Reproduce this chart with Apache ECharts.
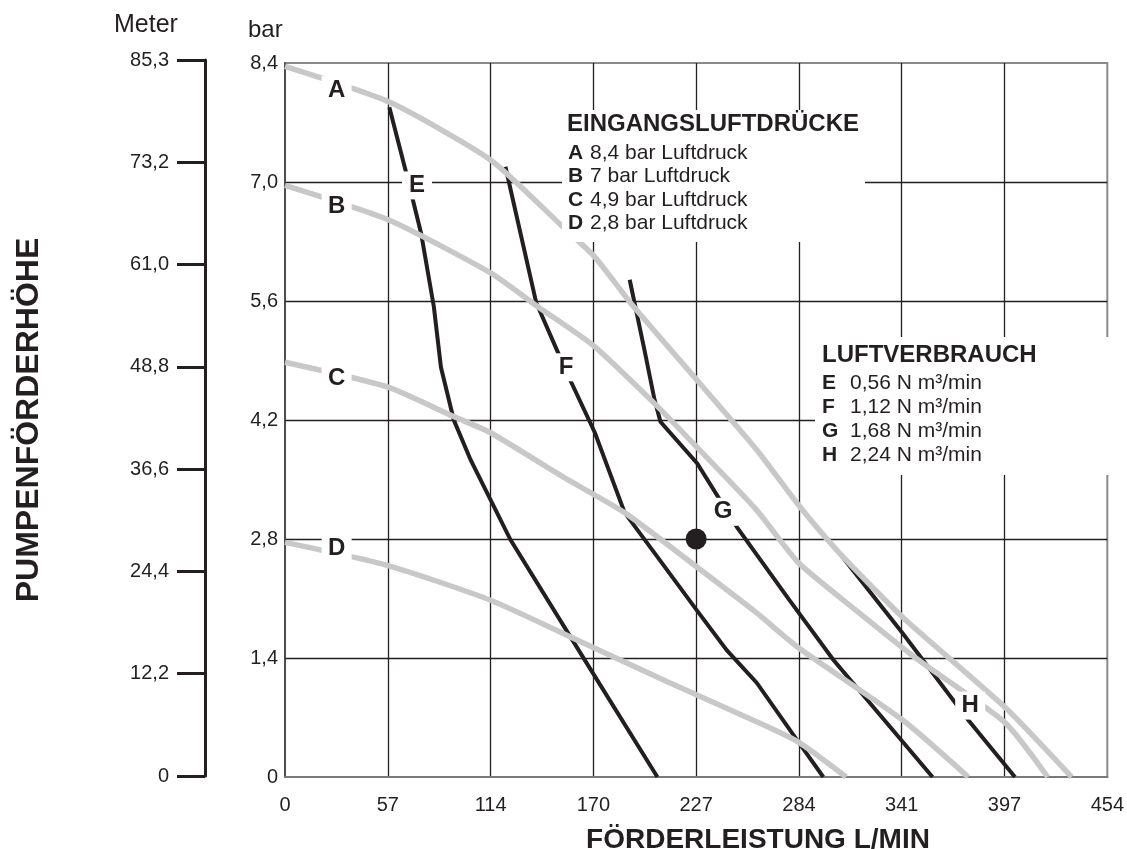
<!DOCTYPE html>
<html>
<head>
<meta charset="utf-8">
<script src="https://cdn.jsdelivr.net/npm/echarts@6/dist/echarts.min.js"></script>
<style>html,body{margin:0;padding:0;background:#fff}#c{width:1127px;height:849px}</style>
</head>
<body>
<div id="c"></div>
<script>
// ---- tick labels ----
const xTickLabels = ['0','57','114','170','227','284','341','397','454'];
const barTickLabels = ['0','1,4','2,8','4,2','5,6','7,0','8,4'];
const meterTickLabels = ['0','12,2','24,4','36,6','48,8','61,0','73,2','85,3'];

// ---- inlet air pressure curves (x: L/min, y: bar) ----
const curveA = [[0,8.36],[57.6,7.94],[113.5,7.26],[153.5,6.47],[171.0,6.12],[190.7,5.58],[227.4,4.67],[260.4,3.85],[283.5,3.20],[305.9,2.64],[341.0,1.88],[397.5,0.82],[434.3,0]];
const curveB = [[0,6.96],[57.6,6.55],[113.5,5.93],[139.8,5.53],[170.0,5.08],[205.6,4.36],[227.4,3.88],[260.4,3.14],[283.5,2.52],[315.3,1.96],[348.2,1.40],[397.5,0.64],[421.1,0]];
const curveC = [[0,4.88],[56.5,4.59],[93.2,4.24],[113.5,4.05],[153.5,3.53],[187.5,3.11],[227.4,2.47],[260.4,1.93],[283.5,1.52],[341.0,0.67],[377.2,0]];
const curveD = [[0,2.76],[56.5,2.49],[113.5,2.08],[164.5,1.58],[211.1,1.12],[260.4,0.65],[283.5,0.41],[309.8,0]];

// ---- air consumption curves ----
const curveE = [[57.6,7.88],[66.9,7.11],[75.1,6.40],[82.2,5.53],[86.1,4.82],[93.2,4.20],[102.5,3.73],[113.5,3.26],[124.5,2.79],[164.5,1.41],[205.6,0]];
const curveF = [[121.7,7.18],[138.7,5.58],[150.8,4.99],[157.9,4.65],[171.1,4.05],[187.5,3.11],[205.6,2.59],[227.4,1.96],[244.0,1.49],[260.4,1.11],[283.5,0.41],[297.2,0]];
const curveG = [[190.3,5.85],[198.5,5.02],[204.0,4.44],[207.3,4.18],[227.6,3.69],[249.5,2.94],[278.5,2.08],[302.7,1.38],[357.5,0]];
const curveH = [[307.0,2.61],[341.0,1.69],[377.2,0.67],[403.0,0]];

// ---- curve letter positions ----
const curveLetters = ['A','B','C','D','E','F','G','H'];
const letterPos = [[28.5,8.08],[28.5,6.71],[28.5,4.69],[28.5,2.69],[72.9,6.96],[155.2,4.82],[241.8,3.12],[378.3,0.84]];

// ---- operating point ----
const opPoint = [227, 2.8];

// ---- legends ----
const pressureTitle = 'EINGANGSLUFTDRÜCKE';
const pressureItems = [['A','8,4 bar Luftdruck'],['B','7 bar Luftdruck'],['C','4,9 bar Luftdruck'],['D','2,8 bar Luftdruck']];
const airTitle = 'LUFTVERBRAUCH';
const airItems = [['E','0,56 N m³/min'],['F','1,12 N m³/min'],['G','1,68 N m³/min'],['H','2,24 N m³/min']];

const FF = '"Liberation Sans", Arial, Helvetica, sans-serif';
const INK = '#231f20';
const GRAY = '#c8c8c8';
const X_STEP = 454 / 8;

const chart = echarts.init(document.getElementById('c'), null, {renderer: 'canvas'});

function grayLine(d){ return {type:'line', xAxisIndex:0, yAxisIndex:0, data:d, symbol:'none', smooth:0.2, z:4, lineStyle:{color:GRAY, width:5.5, cap:'butt'}, silent:true}; }
function blackLine(d){ return {type:'line', xAxisIndex:0, yAxisIndex:0, data:d, symbol:'none', smooth:false, z:3, lineStyle:{color:INK, width:4, cap:'butt', join:'miter'}, silent:true}; }

const graphics = [];
// legend backgrounds
graphics.push({type:'rect', shape:{x:562, y:110, width:303, height:132}, style:{fill:'#fff'}, z:50, silent:true});
graphics.push({type:'rect', shape:{x:815, y:337, width:312, height:138}, style:{fill:'#fff'}, z:50, silent:true});
function txt(x, y, text, font, align){
  return {type:'text', z:60, silent:true, style:{x:x, y:y, text:text, font:font, fill:INK, textAlign:align||'left', textVerticalAlign:'middle', verticalAlign:'middle'}};
}
graphics.push(txt(567, 124, pressureTitle, 'bold 24px ' + FF));
pressureItems.forEach(function(it, i){
  const y = 153 + i * 23.4;
  graphics.push(txt(568, y, it[0], 'bold 21px ' + FF));
  graphics.push(txt(590, y, it[1], '21px ' + FF));
});
graphics.push(txt(822, 355, airTitle, 'bold 24px ' + FF));
airItems.forEach(function(it, i){
  const y = 383 + i * 24;
  graphics.push(txt(822, y, it[0], 'bold 21px ' + FF));
  graphics.push(txt(850, y, it[1], '21px ' + FF));
});
// unit labels
graphics.push(txt(114, 25, 'Meter', '25px ' + FF));
graphics.push(txt(248, 30, 'bar', '24px ' + FF));
// axis titles
graphics.push(txt(758, 840, 'FÖRDERLEISTUNG L/MIN', 'bold 28px ' + FF, 'center'));
graphics.push({type:'text', z:60, silent:true, x:29, y:420, rotation:Math.PI/2,
  style:{x:0, y:0, text:'PUMPENFÖRDERHÖHE', font:'bold 32px ' + FF, fill:INK, textAlign:'center', textVerticalAlign:'middle', verticalAlign:'middle'}});

const option = {
  animation: false,
  backgroundColor: '#fff',
  textStyle: {fontFamily: FF},
  grid: [
    {left:285, top:63, right:14, bottom:72, show:true, borderColor:'#8a8a8a', borderWidth:2, backgroundColor:'transparent'},
    {left:205, top:60, width:1, bottom:73, show:false}
  ],
  xAxis: [
    {type:'value', gridIndex:0, min:0, max:454, interval:X_STEP,
      axisLine:{show:true, onZero:false, lineStyle:{color:'#7a7a7a', width:2}},
      axisTick:{show:false},
      axisLabel:{fontSize:20, color:INK, margin:18, fontFamily:FF, formatter:function(v){ return xTickLabels[Math.round(v / X_STEP)]; }},
      splitLine:{show:true, showMinLine:false, showMaxLine:false, lineStyle:{color:INK, width:1.3}}},
    {type:'value', gridIndex:1, min:0, max:1, show:false}
  ],
  yAxis: [
    {type:'value', gridIndex:0, min:0, max:8.4, interval:1.4,
      axisLine:{show:true, lineStyle:{color:'#3a3a3a', width:1.5}},
      axisTick:{show:false},
      axisLabel:{fontSize:20, color:INK, margin:7, fontFamily:FF, padding:[0,0,6,0], formatter:function(v){ return barTickLabels[Math.round(v / 1.4)]; }},
      splitLine:{show:true, showMinLine:false, showMaxLine:false, lineStyle:{color:INK, width:1.3}}},
    {type:'value', gridIndex:1, min:0, max:7, interval:1, position:'left',
      axisLine:{show:true, lineStyle:{color:INK, width:3}},
      axisTick:{show:true, length:28, lineStyle:{color:INK, width:3}},
      axisLabel:{fontSize:20, color:INK, margin:36, fontFamily:FF, formatter:function(v){ return meterTickLabels[Math.round(v)]; }},
      splitLine:{show:false}}
  ],
  graphic: graphics,
  series: [
    blackLine(curveE), blackLine(curveF), blackLine(curveG), blackLine(curveH),
    grayLine(curveA), grayLine(curveB), grayLine(curveC), grayLine(curveD),
    {type:'line', xAxisIndex:1, yAxisIndex:1, data:[], symbol:'none'},
    {type:'scatter', xAxisIndex:0, yAxisIndex:0, z:8, silent:true, symbolSize:21,
      itemStyle:{color:INK, opacity:1}, data:[opPoint]},
    {type:'scatter', xAxisIndex:0, yAxisIndex:0, z:10, silent:true, symbol:'rect', symbolSize:[30,28],
      itemStyle:{color:'#fff', opacity:1},
      label:{show:true, position:'inside', formatter:function(p){ return p.name; },
        fontSize:24, fontWeight:'bold', color:INK, fontFamily:FF},
      data: curveLetters.map(function(n, i){ return {name:n, value:letterPos[i]}; })}
  ]
};
chart.setOption(option);
</script>
</body>
</html>
